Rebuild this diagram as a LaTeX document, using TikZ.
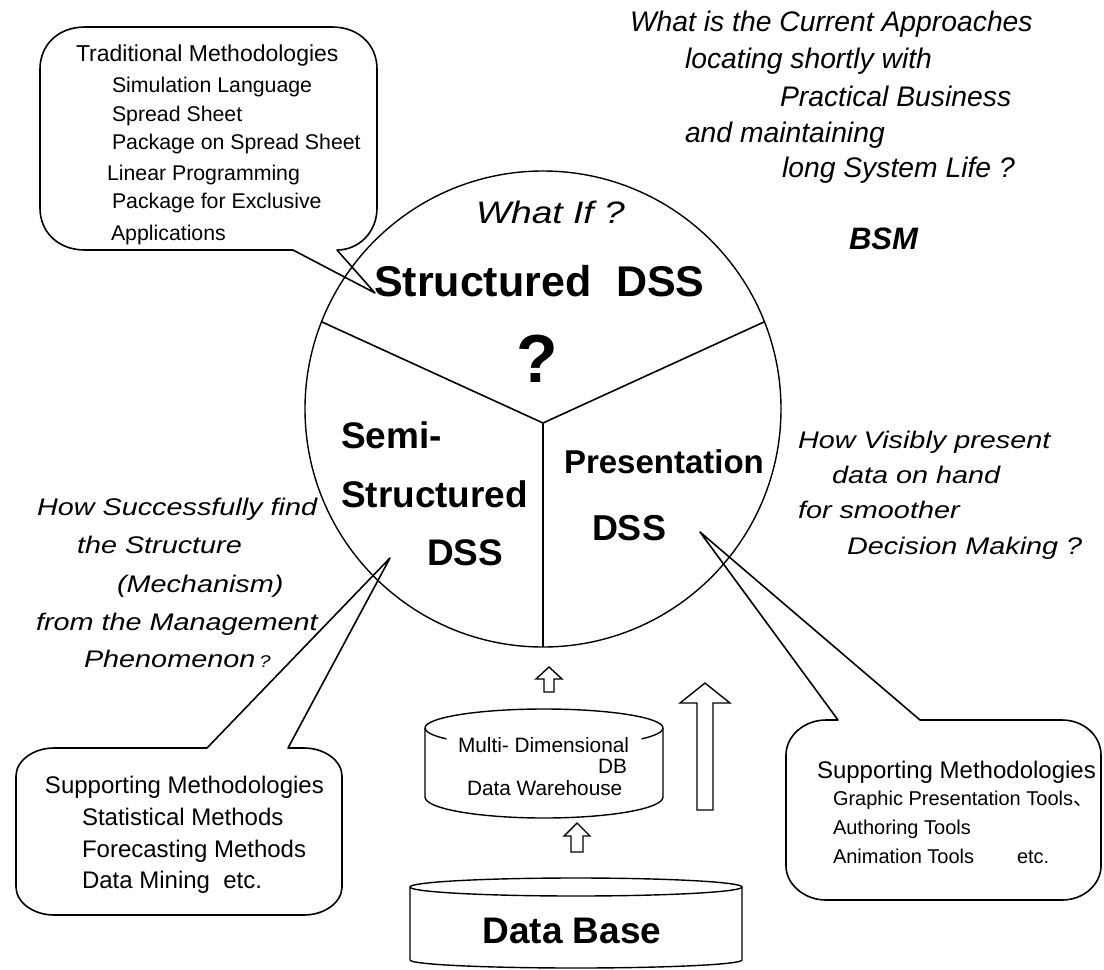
\documentclass[tikz,border=0pt]{standalone}
\usepackage{fontspec}
\setmainfont{Liberation Sans}
\newfontfamily\widesf{Liberation Sans}[FakeStretch=1.2]
\newfontfamily\cjk{Noto Sans CJK JP}
\newcommand\fsz[1]{\fontsize{#1}{#1}\selectfont}
\usetikzlibrary{calc}
\tikzset{
  txt/.style={anchor=base west, inner sep=0pt, outer sep=0pt},
  txtE/.style={anchor=base east, inner sep=0pt, outer sep=0pt},
  outline/.style={line width=1.6pt, line join=round},
  rim/.style={line width=1.4pt},
  hollow/.style={draw, line width=1.4pt, line join=miter, fill=white},
  question/.style={txt, font=\widesf\itshape\fsz{24}},
  topq/.style={txt, font=\itshape\fsz{28.3}},
  boldlbl/.style={txt, font=\bfseries},
}
\begin{document}
\begin{tikzpicture}[x=1pt,y=1pt]
\fill[white] (0,0) rectangle (1104,-970);
\useasboundingbox (0,0) rectangle (1104,-970);

% ---- the DSS pie ----
\coordinate (c) at (543,-409);
\coordinate (hub) at (543,-423);
\coordinate (pl) at ($(c)+(158.5:238)$);
\coordinate (pr) at ($(c)+(21.5:238)$);
\coordinate (pb) at ($(c)+(270:238)$);
\draw[rim] (c) circle[radius=238];
\draw[outline] (pl) -- (hub) -- (pr);
\draw[outline] (hub) -- (pb);

\node[txt, font=\widesf\itshape\fsz{31}] (whatif) at (476,-223) {What If ?};
\node[boldlbl, font=\bfseries\fsz{43}] (sdss) at (374,-296) {Structured\hspace{0.3em} DSS};
\node[boldlbl, font=\bfseries\fsz{68}] (qm) at (516,-382) {?};
\node[boldlbl, font=\bfseries\fsz{37}] (semi1) at (341,-448) {Semi-};
\node[boldlbl, font=\bfseries\fsz{37}] (semi2) at (341,-507) {Structured};
\node[boldlbl, font=\bfseries\fsz{37}] (semi3) at (427,-565) {DSS};
\node[boldlbl, font=\bfseries\fsz{33}] (pres1) at (564,-473) {Presentation};
\node[boldlbl, font=\bfseries\fsz{36}] (pres2) at (592,-540) {DSS};

% ---- top-left callout ----
\coordinate (tipA) at (375,-293);
\draw[outline] (tipA) -- (337,-250)
  .. controls (359,-250) and (377,-232) .. (377,-208)
  -- (377,-69)
  .. controls (377,-45) and (359,-27) .. (332,-27)
  -- (85,-27)
  .. controls (58,-27) and (40,-45) .. (40,-69)
  -- (40,-208)
  .. controls (40,-232) and (58,-250) .. (85,-250)
  -- (293,-250) -- cycle;
\node[txt, font=\fsz{23}] (a1) at (76,-61) {Traditional Methodologies};
\node[txt, font=\fsz{21.3}] (a2) at (112,-92) {Simulation Language};
\node[txt, font=\fsz{21.3}] (a3) at (112,-121) {Spread Sheet};
\node[txt, font=\fsz{21.3}] (a4) at (112,-149) {Package on Spread Sheet};
\node[txt, font=\fsz{21.3}] (a5) at (107,-180) {Linear Programming};
\node[txt, font=\fsz{21.3}] (a6) at (112,-208) {Package for Exclusive};
\node[txt, font=\fsz{21.3}] (a7) at (111,-240) {Applications};

% ---- upper right question ----
\node[topq] (q1) at (630,-31) {What is the Current Approaches};
\node[topq] (q2) at (685,-68) {locating shortly with};
\node[topq] (q3) at (780,-106) {Practical Business};
\node[topq] (q4) at (685,-142) {and maintaining};
\node[topq] (q5) at (782,-177) {long System Life ?};
\node[txt, font=\bfseries\itshape\fsz{31}] (bsm) at (849,-249) {BSM};

% ---- left question ----
\node[question] (l1) at (37,-515) {How Successfully find};
\node[question] (l2) at (77,-553) {the Structure};
\node[question] (l3) at (117,-592) {(Mechanism)};
\node[question] (l4) at (36,-630) {from the Management};
\node[question] (l5) at (84,-667) {Phenomenon\,{\fsz{17}?}};

% ---- right question ----
\node[question] (r1) at (798,-448) {How Visibly present};
\node[question] (r2) at (832,-483) {data on hand};
\node[question] (r3) at (798,-518) {for smoother};
\node[question] (r4) at (847,-554) {Decision Making ?};

% ---- bottom-left callout ----
\coordinate (tipB) at (390,-558);
\draw[outline] (tipB) -- (288,-748)
  -- (304,-748)
  .. controls (325,-748) and (342,-761) .. (342,-776)
  -- (342,-887)
  .. controls (342,-902) and (325,-915) .. (304,-915)
  -- (54,-915)
  .. controls (33,-915) and (16,-902) .. (16,-887)
  -- (16,-776)
  .. controls (16,-761) and (33,-748) .. (54,-748)
  -- (207,-748) -- cycle;
\node[txt, font=\fsz{24}] (b1) at (45,-793) {Supporting Methodologies};
\node[txt, font=\fsz{24}] (b2) at (82,-825) {Statistical Methods};
\node[txt, font=\fsz{24}] (b3) at (82,-857) {Forecasting Methods};
\node[txt, font=\fsz{24}] (b4) at (82,-888) {Data Mining\ \ etc.};

% ---- bottom-right callout ----
\coordinate (tipC) at (700,-532);
\draw[outline] (tipC) -- (920,-720)
  -- (1062,-720)
  .. controls (1084,-720) and (1101,-736) .. (1101,-755)
  -- (1101,-866)
  .. controls (1101,-884) and (1084,-900) .. (1062,-900)
  -- (826,-900)
  .. controls (804,-900) and (786,-884) .. (786,-866)
  -- (786,-755)
  .. controls (786,-736) and (804,-720) .. (826,-720)
  -- (838,-720) -- cycle;
\node[txt, font=\fsz{24}] (c1) at (817,-778) {Supporting Methodologies};
\node[txt, font=\fsz{20}] (c2) at (833,-805) {Graphic Presentation Tools{\cjk 、}};
\node[txt, font=\fsz{20}] (c3) at (833,-834) {Authoring Tools};
\node[txt, font=\fsz{20}] (c4) at (833,-863) {Animation Tools};
\node[txt, font=\fsz{20}] (c5) at (1017,-863) {etc.};

% ---- multi-dimensional store ----
\draw[rim] (425,-728) arc[start angle=180, end angle=0, x radius=119, y radius=19];
\draw[rim] (425,-728) arc[start angle=180, end angle=215, x radius=119, y radius=19];
\draw[rim] (663,-728) arc[start angle=0, end angle=-35, x radius=119, y radius=19];
\draw[rim] (425,-728) -- (425,-797) arc[start angle=180, end angle=360, x radius=119, y radius=21] -- (663,-728);
\node[txt, font=\fsz{20.8}] (m1) at (458,-752) {Multi- Dimensional};
\node[txtE, font=\fsz{20.8}] (m2) at (627,-773) {DB};
\node[txt, font=\fsz{20.8}] (m3) at (467,-795) {Data Warehouse};

% ---- data base ----
\draw[rim] (576,-887) ellipse[x radius=166, y radius=9];
\draw[rim] (410,-887) -- (410,-960) arc[start angle=180, end angle=360, x radius=166, y radius=8] -- (742,-887);
\node[anchor=base, inner sep=0pt, font=\bfseries\fsz{37}] (db) at (572,-943) {Data Base};

% ---- hollow up arrows ----
\draw[hollow] (549,-667) -- (562,-679) -- (554,-679) -- (554,-692) -- (544,-692) -- (544,-679) -- (536,-679) -- cycle;
\draw[hollow] (577,-823) -- (590,-836) -- (583,-836) -- (583,-852) -- (571,-852) -- (571,-836) -- (564,-836) -- cycle;
\draw[hollow] (705,-683) -- (730,-703) -- (713,-703) -- (713,-810) -- (697,-810) -- (697,-703) -- (680,-703) -- cycle;
\end{tikzpicture}
\end{document}
